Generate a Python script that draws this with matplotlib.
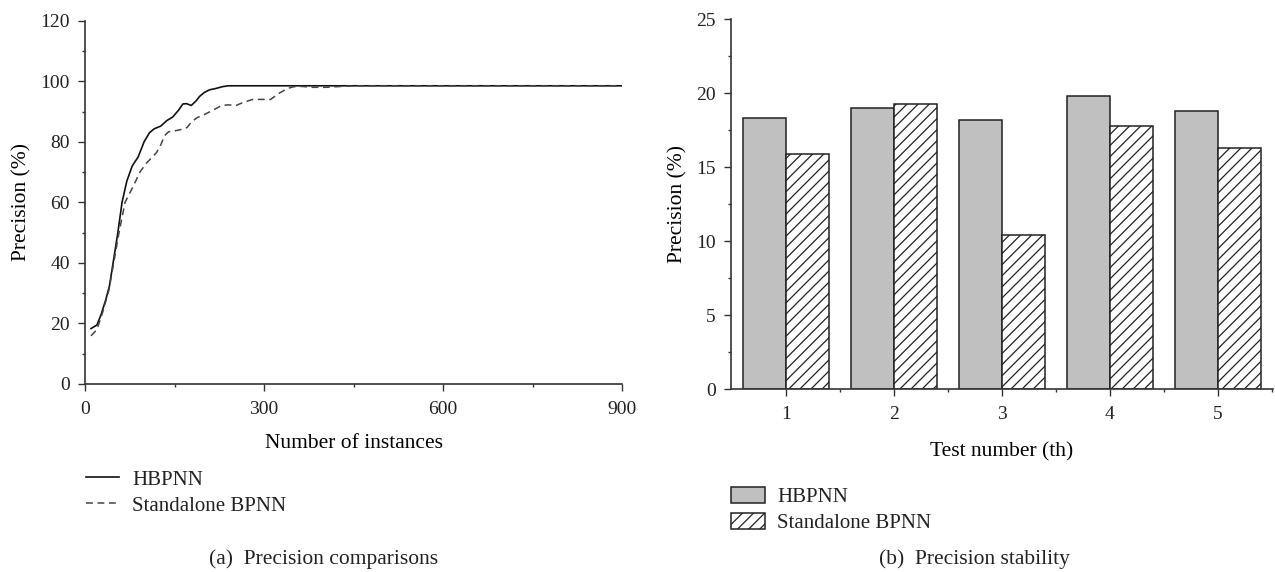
import matplotlib

matplotlib.use("Agg")
import matplotlib.pyplot as plt
import numpy as np

# (a) precision vs number of instances
instances_hbpnn = [10, 20, 27, 35, 41, 47, 55, 62, 70, 79, 89, 99, 108, 116, 127,
                   137, 147, 157, 164, 170, 178, 186, 192, 200, 209, 219, 230, 240, 900]
precision_hbpnn = [18.3, 19.5, 23, 28, 32.5, 40, 50, 60, 67, 72, 75, 80, 83, 84.3, 85.2,
                   87, 88.2, 90.5, 92.5, 92.6, 92, 93.5, 95, 96.3, 97.2, 97.6, 98.2, 98.5, 98.5]

instances_bpnn = [10, 20, 30, 40, 48, 56, 62, 67, 80, 92, 103, 113, 120, 127, 133, 140,
                  147, 160, 171, 178, 188, 200, 212, 229, 240, 253, 265, 281, 295, 311,
                  325, 339, 350, 363, 380, 404, 430, 452, 900]
precision_bpnn = [15.9, 18, 24, 31, 40, 49, 55, 60, 65, 70, 73, 75, 76.5, 79, 82, 83.3,
                  83.5, 84, 84.7, 86.5, 88, 89, 90.2, 92, 92.2, 92, 93, 94, 94, 94,
                  96, 97.6, 98.2, 98.3, 98, 98, 98.3, 98.5, 98.5]

# (b) precision stability
tests = [1, 2, 3, 4, 5]
stability_hbpnn = [18.3, 19.0, 18.2, 19.8, 18.8]
stability_bpnn = [15.9, 19.3, 10.4, 17.8, 16.3]

plt.rcParams["font.family"] = ["Liberation Serif", "DejaVu Serif"]
plt.rcParams["font.size"] = 14
plt.rcParams["hatch.linewidth"] = 0.9
plt.rcParams["axes.edgecolor"] = "#333333"
plt.rcParams["xtick.color"] = "#333333"
plt.rcParams["ytick.color"] = "#333333"
plt.rcParams["text.color"] = "#222222"
plt.rcParams["xtick.labelcolor"] = "#222222"
plt.rcParams["ytick.labelcolor"] = "#222222"

LABEL_SIZE = 15.5
LEGEND_SIZE = 15

fig = plt.figure(figsize=(12.75, 5.72), dpi=100)
ax1 = fig.add_axes([0.0667, 0.3287, 0.4212, 0.6351])
ax2 = fig.add_axes([0.5733, 0.3199, 0.4251, 0.6463])


def style_axes(ax):
    for side in ("top", "right"):
        ax.spines[side].set_visible(False)
    for side in ("left", "bottom"):
        ax.spines[side].set_linewidth(1.2)
    ax.tick_params(which="major", direction="out", length=5, width=1.0)
    ax.tick_params(which="minor", direction="out", length=2.5, width=1.0)
    ax.tick_params(axis="x", which="major", pad=7)
    ax.tick_params(axis="y", which="major", pad=6)


# left panel
ax1.plot(instances_hbpnn, precision_hbpnn, color="#111111", lw=1.2, label="HBPNN")
ax1.plot(instances_bpnn, precision_bpnn, color="#444444", lw=1.1,
         dashes=(4.5, 3), label="Standalone BPNN")
ax1.set_xlim(0, 900)
ax1.set_ylim(0, 120)
ax1.set_xticks([0, 300, 600, 900])
ax1.set_xticks([150, 450, 750], minor=True)
ax1.set_yticks(np.arange(0, 121, 20))
ax1.set_yticks(np.arange(10, 120, 20), minor=True)
ax1.set_xlabel("Number of instances", fontsize=LABEL_SIZE, labelpad=12)
ax1.set_ylabel("Precision (%)", fontsize=LABEL_SIZE, labelpad=6)
style_axes(ax1)
ax1.legend(loc="upper left", bbox_to_anchor=(0.0675, 0.178), bbox_transform=fig.transFigure,
           frameon=False, borderpad=0, borderaxespad=0, handlelength=1.6,
           handletextpad=0.6, labelspacing=0.3, fontsize=LEGEND_SIZE)

# right panel
w = 0.4
x = np.array(tests)
ax2.bar(x - w / 2, stability_hbpnn, w, color="#c0c0c0", edgecolor="#222222",
        lw=1.1, label="HBPNN")
ax2.bar(x + w / 2, stability_bpnn, w, color="white", edgecolor="#222222",
        lw=1.1, hatch="///", label="Standalone BPNN")
ax2.set_xlim(0.49, 5.51)
ax2.set_ylim(0, 25)
ax2.set_xticks(tests)
ax2.set_xticks([1.5, 2.5, 3.5, 4.5, 5.5], minor=True)
ax2.set_yticks(np.arange(0, 26, 5))
ax2.set_yticks(np.arange(2.5, 25, 5), minor=True)
ax2.set_xlabel("Test number (th)", fontsize=LABEL_SIZE, labelpad=14)
ax2.set_ylabel("Precision (%)", fontsize=LABEL_SIZE, labelpad=6)
style_axes(ax2)
ax2.legend(loc="upper left", bbox_to_anchor=(0.573, 0.148), bbox_transform=fig.transFigure,
           frameon=False, borderpad=0, borderaxespad=0, handlelength=1.65,
           handleheight=0.75, handletextpad=0.6, labelspacing=0.3, fontsize=LEGEND_SIZE)

fig.text(324 / 1275, 1 - 559 / 572, "(a)  Precision comparisons", ha="center", va="center",
         fontsize=LABEL_SIZE)
fig.text(974 / 1275, 1 - 559 / 572, "(b)  Precision stability", ha="center", va="center",
         fontsize=LABEL_SIZE)

fig.savefig("out.png", dpi=100)
plt.close(fig)
